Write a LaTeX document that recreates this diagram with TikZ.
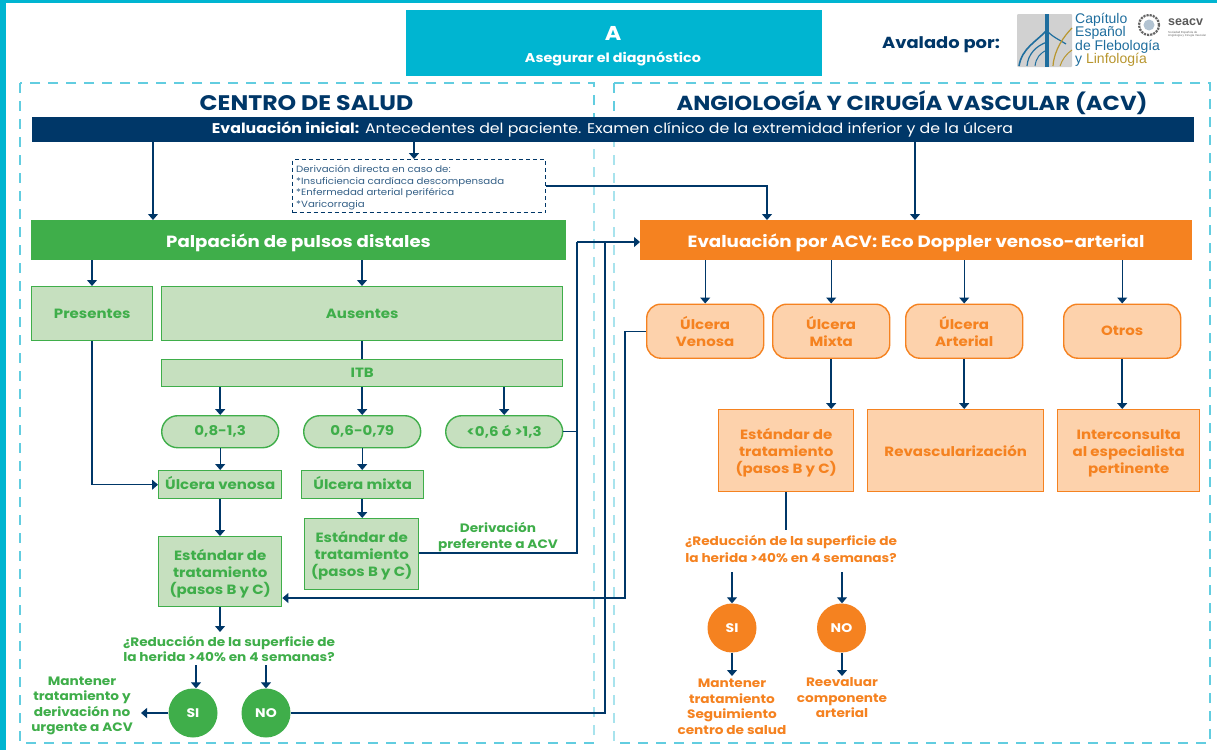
\documentclass[tikz,border=0pt]{standalone}
\usepackage{fontspec}
\setmainfont{Poppins}[FakeStretch=1.12]
\newfontfamily\logofont{Liberation Sans}
\usetikzlibrary{arrows.meta,calc}
\definecolor{navy}{HTML}{003768}
\definecolor{cyanb}{HTML}{00B5D1}
\definecolor{dashc}{HTML}{62CDE0}
\definecolor{grn}{HTML}{3FAE4A}
\definecolor{lgrn}{HTML}{C6E0BF}
\definecolor{org}{HTML}{F58220}
\definecolor{lorg}{HTML}{FDD2AC}
\definecolor{lblue}{HTML}{1F6E9E}
\definecolor{lgold}{HTML}{B8962E}
\newcommand{\fs}[2]{\fontsize{#1}{#2}\selectfont}
\newcommand{\lowr}{\rule{0pt}{15pt}}
\newcommand{\highr}{\rule[-4pt]{0pt}{4pt}}
\tikzset{
  px/.style={x=1pt,y=-1pt},
  box/.style={draw,anchor=north west,inner sep=0pt,align=center,font=\fs{13.4}{17}\bfseries},
  gbox/.style={box,draw=grn,fill=lgrn,text=grn,line width=1.4pt},
  obox/.style={box,draw=org,fill=lorg,text=org,line width=1.4pt},
  gpill/.style={gbox,rounded corners=16pt},
  opill/.style={obox,rounded corners=14pt},
  wlabel/.style={inner sep=0pt,align=center,text=white,font=\fs{16.2}{18}\bfseries},
  glabel/.style={inner sep=0pt,align=center,text=grn,font=\fs{12.2}{15.5}\bfseries},
  olabel/.style={inner sep=0pt,align=center,text=org,font=\fs{12.2}{15.5}\bfseries},
  dot/.style={circle,inner sep=0pt,minimum size=49pt,text=white,font=\fs{12.5}{14}\bfseries},
  arr/.style={draw=navy,line width=1.6pt,-{Triangle[length=6pt,width=10pt]}},
  thinarr/.style={arr,line width=1.1pt},
  lin/.style={draw=navy,line width=1.1pt},
  zone/.style={draw=dashc,line width=1.1pt,dash pattern=on 10pt off 8pt},
  head/.style={inner sep=0pt,text=navy,font=\fs{20.3}{22}\bfseries}
}
\begin{document}
\begin{tikzpicture}[px]
\useasboundingbox (0,0) rectangle (1217,750);
\fill[white] (0,0) rectangle (1217,750);
\fill[cyanb] (0,0) rectangle (1217,2.5);
\fill[cyanb] (0,0) rectangle (6,750);
% zones
\draw[zone] (20,83) rectangle (594,743);
\draw[zone] (614,83) rectangle (1210,743);
\fill[white,opacity=0.45] (590,142) rectangle (618,741);
% top
\node[box,draw=none,fill=cyanb,text=white,minimum width=416pt,minimum height=66pt] (A) at (406,10) {};
\node[text=white,inner sep=0pt,font=\fs{20}{22}\bfseries] (Aa) at (613,33) {A};
\node[text=white,inner sep=0pt,font=\fs{12.8}{14}\bfseries] (Ab) at (613,58.5) {Asegurar el diagnóstico};
\node[text=navy,inner sep=0pt,font=\fs{16}{18}\bfseries] (aval) at (941,45) {Avalado por:};
% logo
\fill[rounded corners=1pt,fill=black!18] (1017,14) rectangle (1072,67);
\draw[color=lblue,line width=3.5pt] (1047,14) -- (1047,67);
\draw[color=lblue,line width=1.6pt] (1047,30) .. controls (1036,42) and (1022,48) .. (1019,66);
\draw[color=lblue,line width=1.2pt] (1047,42) .. controls (1036,46) and (1028,54) .. (1027,66);
\draw[color=lblue,line width=1pt] (1047,50) .. controls (1040,53) and (1036,58) .. (1035,66);
\draw[color=lblue,line width=1.2pt] (1047,31) .. controls (1054,38) and (1060,40) .. (1066,44);
\draw[color=lgold,line width=1.2pt] (1072,28) .. controls (1064,36) and (1054,50) .. (1053,66);
\draw[color=lgold,line width=1pt] (1072,50) .. controls (1066,54) and (1062,60) .. (1060,66);
\node[anchor=west,inner sep=0pt,text=lblue,font=\logofont\fs{14}{15}] (logo1) at (1075,19.5) {Capítulo};
\node[anchor=west,inner sep=0pt,text=lblue,font=\logofont\fs{14}{15}] (logo2) at (1075,33) {Español};
\node[anchor=west,inner sep=0pt,text=lblue,font=\logofont\fs{14}{15}] (logo3) at (1075,46.5) {de Flebología};
\node[anchor=west,inner sep=0pt,font=\logofont\fs{14}{15}] (logo4) at (1075,60) {\textcolor{lblue}{y} \textcolor{lgold}{Linfología}};
\draw[black!60,line width=2.2pt,densely dotted] (1149,25) circle (10pt);
\fill[navy!30!white] (1149,25) circle (5.5pt);
\node[anchor=west,inner sep=0pt,text=black!65,font=\logofont\fs{12.5}{13}\bfseries] (logo5) at (1168,22) {seacv};
\node[anchor=north west,inner sep=0pt,align=left,text=black!60,font=\logofont\fs{2.9}{3.4}] (logo6) at (1168,31) {Sociedad Española de\\Angiología y Cirugía Vascular};
% titles
\node[head,font=\fs{21.1}{22}\bfseries] (h1) at (306.5,103) {CENTRO DE SALUD};
\node[head] (h2) at (912,103) {ANGIOLOGÍA Y CIRUGÍA VASCULAR (ACV)};
% bar
\node[box,draw=none,fill=navy,minimum width=1162pt,minimum height=25pt] (bar) at (32,117) {};
\node[inner sep=0pt,text=white,font=\fs{14.1}{16}] (bart) at (612.5,129.5) {\textbf{Evaluación inicial:} Antecedentes del paciente. Examen clínico de la extremidad inferior y de la úlcera};
% derivacion
\node[box,draw=navy,line width=1.1pt,dash pattern=on 4pt off 3pt,minimum width=253pt,minimum height=53pt] (der) at (292,159) {};
\node[anchor=north west,inner sep=0pt,align=left,text=navy!80!white,font=\fs{9.1}{11.7}] (dert) at (296,165) {Derivación directa en caso de:\\*Insuficiencia cardíaca descompensada\\*Enfermedad arterial periférica\\*Varicorragia};
% main
\node[box,draw=none,fill=grn,minimum width=535pt,minimum height=40pt] (pal) at (31,220) {};
\node[wlabel] (palt) at (298.5,242.5) {Palpación de pulsos distales};
\node[box,draw=none,fill=org,minimum width=552pt,minimum height=40pt] (eva) at (640,220) {};
\node[wlabel,font=\fs{16.3}{18}\bfseries] (evat) at (916,242.5) {Evaluación por ACV: Eco Doppler venoso-arterial};
% left boxes
\node[gbox,minimum width=121pt,minimum height=54pt] (pre) at (31,286) {Presentes};
\node[gbox,minimum width=401pt,minimum height=54pt] (aus) at (161,286) {Ausentes};
\node[gbox,minimum width=401pt,minimum height=27pt] (itb) at (161,359) {ITB};
\node[gpill,minimum width=117pt,minimum height=32pt] (p1) at (161,415) {0,8-1,3};
\node[gpill,minimum width=117pt,minimum height=32pt] (p2) at (303,415) {0,6-0,79};
\node[gpill,minimum width=117pt,minimum height=32pt] (p3) at (445,415) {<0,6 ó >1,3};
\node[gbox,minimum width=123pt,minimum height=28pt] (uv) at (158,470) {\highr Úlcera venosa};
\node[gbox,minimum width=122pt,minimum height=28pt] (um) at (301,470) {\highr Úlcera mixta};
\node[gbox,minimum width=123pt,minimum height=70pt] (est1) at (158,536) {\lowr Estándar de\\tratamiento\\(pasos B y C)};
\node[gbox,minimum width=114pt,minimum height=71pt] (est2) at (304,518) {\lowr Estándar de\\tratamiento\\(pasos B y C)};
\node[glabel,font=\fs{12.2}{16}\bfseries] (dp) at (498,537.5) {Derivación\\preferente a ACV};
\node[glabel] (q1) at (229,649) {¿Reducción de la superficie de\\la herida >40\% en 4 semanas?};
\node[dot,fill=grn] (si1) at (193,713) {SI};
\node[dot,fill=grn] (no1) at (266,713) {NO};
\node[glabel] (mt) at (82,706) {Mantener\\tratamiento y\\derivación no\\urgente a ACV};
% right boxes
\node[opill,minimum width=117pt,minimum height=54pt] (o1) at (646,303.5) {Úlcera\\Venosa};
\node[opill,minimum width=117pt,minimum height=54pt] (o2) at (772,303.5) {Úlcera\\Mixta};
\node[opill,minimum width=117pt,minimum height=54pt] (o3) at (905,303.5) {Úlcera\\Arterial};
\node[opill,minimum width=117pt,minimum height=54pt] (o4) at (1063,303.5) {Otros};
\node[obox,minimum width=135pt,minimum height=82pt] (e1) at (718,409) {\lowr Estándar de\\tratamiento\\(pasos B y C)};
\node[obox,minimum width=176pt,minimum height=82pt] (e2) at (867,409) {Revascularización};
\node[obox,minimum width=142pt,minimum height=82pt] (e3) at (1057,409) {\lowr Interconsulta\\al especialista\\pertinente};
\node[olabel,font=\fs{12.2}{17}\bfseries] (q2) at (791,548.5) {¿Reducción de la superficie de\\la herida >40\% en 4 semanas?};
\node[dot,fill=org] (si2) at (732,628) {SI};
\node[dot,fill=org] (no2) at (841.5,628) {NO};
\node[olabel] (m2) at (732,707) {Mantener\\tratamiento\\Seguimiento\\centro de salud};
\node[olabel] (m3) at (842,698) {Reevaluar\\componente\\arterial};
% free-end coordinates
\coordinate (x1) at (153,0);
\coordinate (x2) at (414,0);
\coordinate (x3) at (915,0);
\coordinate (x4) at (767,0);
\coordinate (x5) at (92,0);
\coordinate (x6) at (362,0);
\coordinate (x7) at (220,0);
\coordinate (x9) at (196,0);
\coordinate (x10) at (266,0);
\coordinate (x12) at (842,0);
\coordinate (x13) at (786,0);
\coordinate (v1) at (577,0);
\coordinate (v2) at (605,0);
\coordinate (v3) at (625,0);
\coordinate (y1) at (0,242);
\coordinate (y2) at (0,598);
\coordinate (y3) at (0,186);
\coordinate (y4) at (0,553);
\coordinate (mtend) at (141,713);
\coordinate (q1t) at (0,632);
\coordinate (q1b) at (0,665);
\coordinate (q2t) at (0,530);
\coordinate (q2b) at (0,572);
\coordinate (m2t) at (0,676);
% connectors
\draw[thinarr] (bar.south -| x1) -- (pal.north -| x1);
\draw[arr] (bar.south -| x2) -- (der.north -| x2);
\draw[thinarr] (bar.south -| x3) -- (eva.north -| x3);
\draw[thinarr] (der.east |- y3) -| (eva.north -| x4);
\draw[thinarr] (pal.south -| x5) -- (pre.north -| x5);
\draw[thinarr] (pal.south -| x6) -- (aus.north -| x6);
\draw[lin] (aus.south -| x6) -- (itb.north -| x6);
\draw[arr] (itb.south -| p1.north) -- (p1.north);
\draw[arr] (itb.south -| p2.north) -- (p2.north);
\draw[arr] (itb.south -| p3.north) -- (p3.north);
\draw[thinarr] (p1.south) -- (uv.north -| p1.south);
\draw[thinarr] (p2.south) -- (um.north -| p2.south);
\draw[arr] (uv.south -| x7) -- (est1.north -| x7);
\draw[arr] (um.south -| p2.south) -- (est2.north -| p2.south);
\draw[thinarr] (pre.south -| x5) |- (uv.west);
\draw[lin] (p3.east) -- (p3.east -| v1);
\draw[lin] (est2.east |- y4) -| (v1 |- y1);
\draw[thinarr] (est1.south -| x7) -- (q1t -| x7);
\draw[thinarr] (q1b -| x9) -- (si1.north -| x9);
\draw[thinarr] (q1b -| x10) -- (no1.north);
\draw[thinarr] (si1.west) -- (mtend);
\draw[lin] (no1.east) -| (v2 |- y1);
\draw[thinarr] (v1 |- y1) -- (eva.west |- y1);
\draw[thinarr] (o1.west) -| (v3 |- y2) -- (est1.east |- y2);
\draw[thinarr] (eva.south -| o1.north) -- (o1.north);
\draw[thinarr] (eva.south -| o2.north) -- (o2.north);
\draw[thinarr] (eva.south -| o3.north) -- (o3.north);
\draw[thinarr] (eva.south -| o4.north) -- (o4.north);
\draw[arr] (o2.south) -- (e1.north -| o2.south);
\draw[arr] (o3.south) -- (e2.north -| o3.south);
\draw[arr] (o4.south) -- (e3.north -| o4.south);
\draw[lin] (e1.south -| x13) -- (q2t -| x13);
\draw[thinarr] (q2b -| si2.north) -- (si2.north);
\draw[thinarr] (q2b -| x12) -- (no2.north -| x12);
\draw[thinarr] (si2.south) -- (m2t -| si2.south);
\draw[thinarr] (no2.south -| x12) -- (m2t -| x12);
\end{tikzpicture}
\end{document}
